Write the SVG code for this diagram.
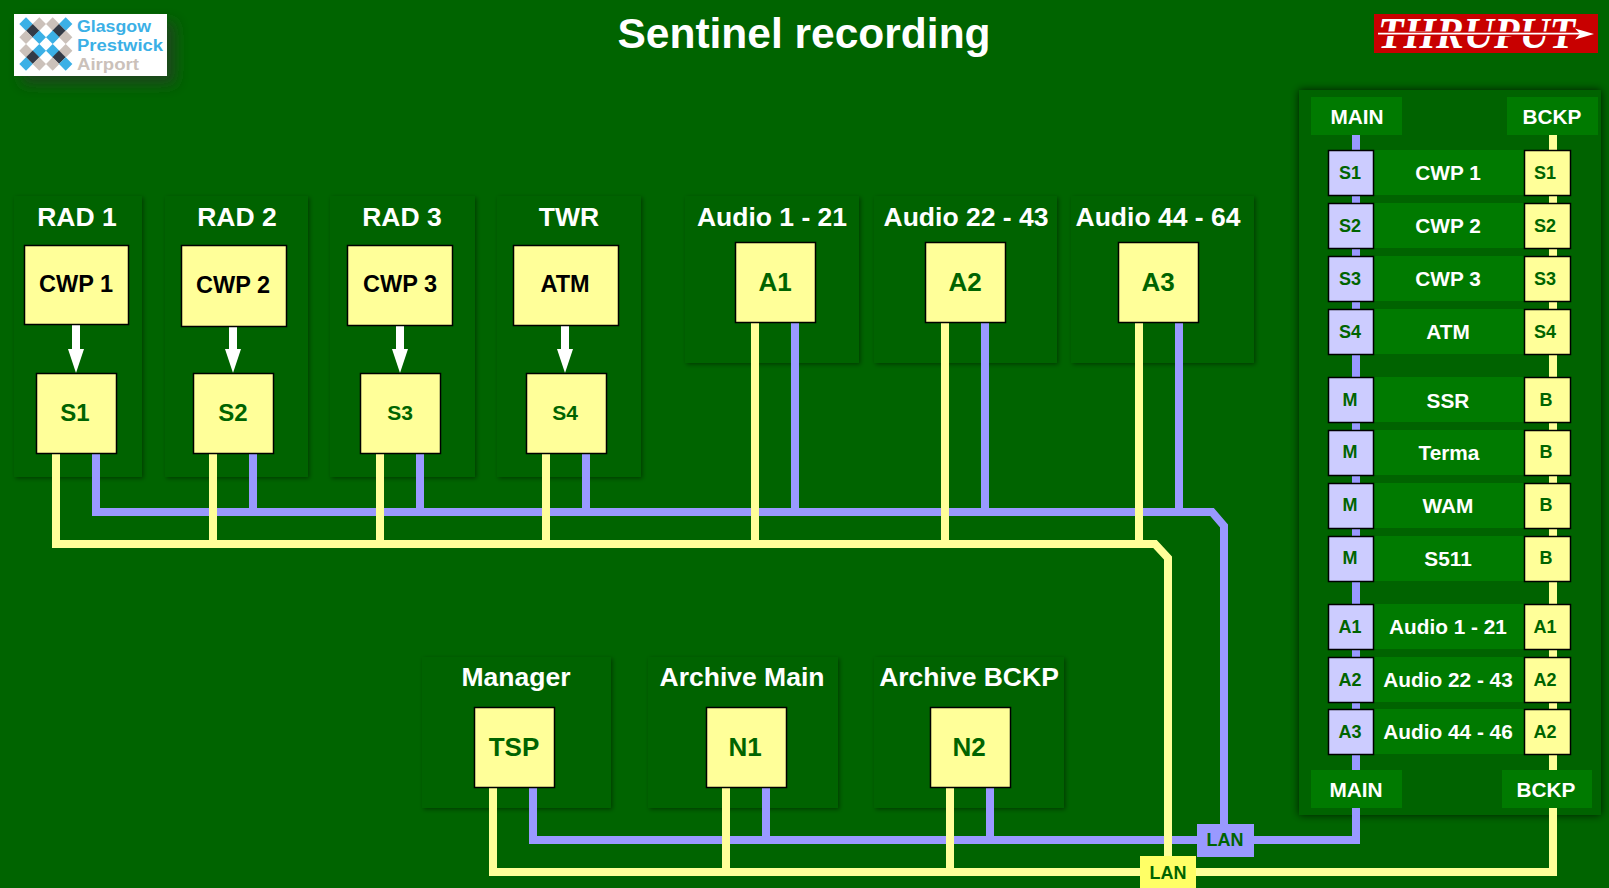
<svg xmlns="http://www.w3.org/2000/svg" width="1609" height="888" viewBox="0 0 1609 888">
<style>
text{font-family:"Liberation Sans",Arial,sans-serif;font-weight:bold;text-anchor:middle}
.panel{fill:#006400;filter:url(#sh)}
.tp{fill:#fff;font-size:26.5px}
.box{fill:#ffff99;stroke:#000;stroke-width:1.5}
.lbox{fill:#ccccff;stroke:#000;stroke-width:1.5}
.row{fill:#007a00}
.tb{fill:#000;font-size:23.5px}
.tg{fill:#006400;font-size:24px}
.tg2{fill:#006400;font-size:21px}
.tg3{fill:#006400;font-size:26px}
.ts{fill:#006400;font-size:18px}
.tw{fill:#fff;font-size:20.8px}
.y{fill:none;stroke:#ffff99;stroke-width:8}
.b{fill:none;stroke:#9999ff;stroke-width:8}
.a{stroke:#fff;stroke-width:8;marker-end:url(#ah)}
.dc{fill:#3bb0e6}.dk{fill:#323a46}.dt{fill:#cbc1ba}
</style>
<defs>
<filter id="sh" x="-20%" y="-20%" width="140%" height="140%"><feDropShadow dx="1.5" dy="1.5" stdDeviation="2" flood-color="#000" flood-opacity=".4"/></filter>
<filter id="sh2" x="-10%" y="-10%" width="120%" height="120%"><feDropShadow dx="0" dy="0" stdDeviation="4" flood-color="#000" flood-opacity=".75"/></filter>
<filter id="sh3" x="-30%" y="-50%" width="170%" height="220%"><feDropShadow dx="8" dy="8" stdDeviation="7" flood-color="#333" flood-opacity=".6"/></filter>
<marker id="ah" markerUnits="userSpaceOnUse" markerWidth="24" markerHeight="16" refX="0" refY="8" orient="auto" viewBox="0 0 24 16" overflow="visible"><path d="M0,0L24,8L0,16Z" fill="#fff"/></marker>
<polygon id="d" points="0,-6.7 6.7,0 0,6.7 -6.7,0"/>
</defs>
<rect width="1609" height="888" fill="#006400"/>
<text x="804" y="48" fill="#fff" style="font-size:42.5px">Sentinel recording</text>

<g id="logo-glasgow">
<rect x="14" y="14" width="153" height="62" fill="#fff" filter="url(#sh3)"/>
<use href="#d" x="26" y="24" class="dc"/><use href="#d" x="39.3" y="24" class="dt"/><use href="#d" x="52.7" y="24" class="dt"/><use href="#d" x="65.7" y="24" class="dc"/>
<use href="#d" x="32.7" y="30.7" class="dk"/><use href="#d" x="59" y="30.7" class="dk"/>
<use href="#d" x="26" y="37.3" class="dt"/><use href="#d" x="39.3" y="37.3" class="dc"/><use href="#d" x="52.7" y="37.3" class="dc"/><use href="#d" x="65.7" y="37.3" class="dt"/>
<use href="#d" x="26" y="50.7" class="dt"/><use href="#d" x="39.3" y="50.7" class="dc"/><use href="#d" x="52.7" y="50.7" class="dc"/><use href="#d" x="65.7" y="50.7" class="dt"/>
<use href="#d" x="32.7" y="57.3" class="dk"/><use href="#d" x="59" y="57.3" class="dk"/>
<use href="#d" x="26" y="64" class="dc"/><use href="#d" x="39.3" y="64" class="dt"/><use href="#d" x="52.7" y="64" class="dt"/><use href="#d" x="65.7" y="64" class="dc"/>
<text x="77" y="31.5" fill="#3bb0e6" textLength="74" lengthAdjust="spacingAndGlyphs" style="font-size:16px;text-anchor:start">Glasgow</text>
<text x="77" y="51" fill="#3bb0e6" textLength="86" lengthAdjust="spacingAndGlyphs" style="font-size:16px;text-anchor:start">Prestwick</text>
<text x="77" y="70" fill="#cbc1ba" textLength="62" lengthAdjust="spacingAndGlyphs" style="font-size:16px;text-anchor:start">Airport</text>
</g>

<g id="logo-thruput">
<rect x="1374" y="14" width="224" height="39" fill="#c80000"/>
<text x="1378" y="48" fill="#fff" textLength="197" lengthAdjust="spacingAndGlyphs" style="font-family:'Liberation Serif',serif;font-style:italic;font-size:44px;text-anchor:start">THRUPUT</text>
<path d="M1378,33.7H1578" stroke="#c80000" stroke-width="4.5" fill="none"/>
<path d="M1378,33.7H1580" stroke="#fff" stroke-width="1.8" fill="none"/>
<polygon points="1594,34 1575,28.5 1580,34 1575,39.5" fill="#fff"/>
</g>

<g id="panels">
<rect class="panel" x="14" y="196" width="128" height="281"/>
<rect class="panel" x="165" y="196" width="143" height="281"/>
<rect class="panel" x="330" y="196" width="145" height="281"/>
<rect class="panel" x="497" y="196" width="144" height="281"/>
<rect class="panel" x="685" y="196" width="174" height="167"/>
<rect class="panel" x="874" y="196" width="183" height="167"/>
<rect class="panel" x="1071" y="196" width="183" height="167"/>
<rect class="panel" x="422" y="657" width="189" height="151"/>
<rect class="panel" x="648" y="657" width="190" height="151"/>
<rect class="panel" x="874" y="657" width="190" height="151"/>
<rect x="1299" y="90" width="302" height="725" fill="#006400" filter="url(#sh2)"/>
<text class="tp" x="77" y="226">RAD 1</text>
<text class="tp" x="237" y="226">RAD 2</text>
<text class="tp" x="402" y="226">RAD 3</text>
<text class="tp" x="569" y="226">TWR</text>
<text class="tp" x="772" y="226">Audio 1 - 21</text>
<text class="tp" x="966" y="226">Audio 22 - 43</text>
<text class="tp" x="1158" y="226">Audio 44 - 64</text>
<text class="tp" x="516" y="686">Manager</text>
<text class="tp" x="742" y="686">Archive Main</text>
<text class="tp" x="969" y="686">Archive BCKP</text>
</g>

<g id="connectors">
<path class="b" d="M96,453V512H1212L1224,526V824"/>
<path class="b" d="M253,453V512M420,453V512M586,453V512M795,323V512M985,323V512M1179,323V512"/>
<path class="b" d="M533,788V840H1356V808"/>
<path class="b" d="M766,788V840M990,788V840"/>
<path class="b" d="M1356,135V770"/>
<path class="y" d="M56,453V544H1155L1168,558V856"/>
<path class="y" d="M213,453V544M380,453V544M546,453V544M755,323V544M945,323V544M1139,323V544"/>
<path class="y" d="M493,788V872H1553V808"/>
<path class="y" d="M726,788V872M950,788V872"/>
<path class="y" d="M1553,135V770"/>
<line class="a" x1="76" y1="325" x2="76" y2="349"/>
<line class="a" x1="233" y1="326" x2="233" y2="349"/>
<line class="a" x1="400" y1="326" x2="400" y2="349"/>
<line class="a" x1="565" y1="326" x2="565" y2="349"/>
</g>

<g id="n-cwp1"><rect class="box" x="24.5" y="245.5" width="104" height="79"/><text class="tb" x="76" y="292">CWP 1</text></g>
<g id="n-cwp2"><rect class="box" x="181.5" y="245.5" width="105" height="81"/><text class="tb" x="233" y="293">CWP 2</text></g>
<g id="n-cwp3"><rect class="box" x="347.5" y="245.5" width="105" height="80"/><text class="tb" x="400" y="292">CWP 3</text></g>
<g id="n-atm"><rect class="box" x="513.5" y="245.5" width="105" height="80"/><text class="tb" x="565" y="292">ATM</text></g>
<g id="n-s1"><rect class="box" x="36.5" y="373.5" width="80" height="80"/><text class="tg" x="75" y="421">S1</text></g>
<g id="n-s2"><rect class="box" x="193.5" y="373.5" width="80" height="80"/><text class="tg" x="233" y="421">S2</text></g>
<g id="n-s3"><rect class="box" x="360.5" y="373.5" width="80" height="80"/><text class="tg2" x="400" y="420">S3</text></g>
<g id="n-s4"><rect class="box" x="526.5" y="373.5" width="80" height="80"/><text class="tg2" x="565" y="420">S4</text></g>
<g id="n-a1"><rect class="box" x="735.5" y="242.5" width="80" height="80"/><text class="tg3" x="775" y="291">A1</text></g>
<g id="n-a2"><rect class="box" x="925.5" y="242.5" width="80" height="80"/><text class="tg3" x="965" y="291">A2</text></g>
<g id="n-a3"><rect class="box" x="1118.5" y="242.5" width="80" height="80"/><text class="tg3" x="1158" y="291">A3</text></g>
<g id="n-tsp"><rect class="box" x="474.5" y="707.5" width="80" height="80"/><text class="tg3" x="514" y="756">TSP</text></g>
<g id="n-n1"><rect class="box" x="706.5" y="707.5" width="80" height="80"/><text class="tg3" x="745" y="756">N1</text></g>
<g id="n-n2"><rect class="box" x="930.5" y="707.5" width="80" height="80"/><text class="tg3" x="969" y="756">N2</text></g>

<g id="n-lan-blue"><rect x="1197" y="824" width="57" height="33" fill="#9999ff"/><text class="ts" x="1225" y="846">LAN</text></g>
<g id="n-lan-yellow"><rect x="1140" y="856" width="56" height="32" fill="#ffff66"/><text class="ts" x="1168" y="879">LAN</text></g>

<g id="n-main-top"><rect class="row" x="1311" y="97" width="91" height="38"/><text class="tw" x="1357" y="124">MAIN</text></g>
<g id="n-bckp-top"><rect class="row" x="1507" y="97" width="91" height="38"/><text class="tw" x="1552" y="124">BCKP</text></g>
<g id="n-main-bot"><rect class="row" x="1311" y="770" width="91" height="38"/><text class="tw" x="1356" y="797">MAIN</text></g>
<g id="n-bckp-bot"><rect class="row" x="1502" y="770" width="90" height="38"/><text class="tw" x="1546" y="797">BCKP</text></g>

<g id="r-cwp1"><rect class="row" x="1373" y="150" width="152" height="45"/><rect class="lbox" x="1328.5" y="150.5" width="45" height="45"/><rect class="box" x="1524.5" y="150.5" width="46" height="45"/><text class="ts" x="1350" y="179">S1</text><text class="ts" x="1545" y="179">S1</text><text class="tw" x="1448" y="180">CWP 1</text></g>
<g id="r-cwp2"><rect class="row" x="1373" y="203" width="152" height="45"/><rect class="lbox" x="1328.5" y="203.5" width="45" height="45"/><rect class="box" x="1524.5" y="203.5" width="46" height="45"/><text class="ts" x="1350" y="232">S2</text><text class="ts" x="1545" y="232">S2</text><text class="tw" x="1448" y="233">CWP 2</text></g>
<g id="r-cwp3"><rect class="row" x="1373" y="256" width="152" height="45"/><rect class="lbox" x="1328.5" y="256.5" width="45" height="45"/><rect class="box" x="1524.5" y="256.5" width="46" height="45"/><text class="ts" x="1350" y="285">S3</text><text class="ts" x="1545" y="285">S3</text><text class="tw" x="1448" y="286">CWP 3</text></g>
<g id="r-atm"><rect class="row" x="1373" y="309" width="152" height="45"/><rect class="lbox" x="1328.5" y="309.5" width="45" height="45"/><rect class="box" x="1524.5" y="309.5" width="46" height="45"/><text class="ts" x="1350" y="338">S4</text><text class="ts" x="1545" y="338">S4</text><text class="tw" x="1448" y="339">ATM</text></g>
<g id="r-ssr"><rect class="row" x="1373" y="377" width="152" height="45"/><rect class="lbox" x="1328.5" y="377.5" width="45" height="45"/><rect class="box" x="1524.5" y="377.5" width="46" height="45"/><text class="ts" x="1350" y="406">M</text><text class="ts" x="1546" y="406">B</text><text class="tw" x="1448" y="408">SSR</text></g>
<g id="r-terma"><rect class="row" x="1373" y="430" width="152" height="45"/><rect class="lbox" x="1328.5" y="430.5" width="45" height="45"/><rect class="box" x="1524.5" y="430.5" width="46" height="45"/><text class="ts" x="1350" y="458">M</text><text class="ts" x="1546" y="458">B</text><text class="tw" x="1449" y="460">Terma</text></g>
<g id="r-wam"><rect class="row" x="1373" y="483" width="152" height="45"/><rect class="lbox" x="1328.5" y="483.5" width="45" height="45"/><rect class="box" x="1524.5" y="483.5" width="46" height="45"/><text class="ts" x="1350" y="511">M</text><text class="ts" x="1546" y="511">B</text><text class="tw" x="1448" y="513">WAM</text></g>
<g id="r-s511"><rect class="row" x="1373" y="536" width="152" height="45"/><rect class="lbox" x="1328.5" y="536.5" width="45" height="45"/><rect class="box" x="1524.5" y="536.5" width="46" height="45"/><text class="ts" x="1350" y="564">M</text><text class="ts" x="1546" y="564">B</text><text class="tw" x="1448" y="566">S511</text></g>
<g id="r-audio1"><rect class="row" x="1373" y="604" width="152" height="45"/><rect class="lbox" x="1328.5" y="604.5" width="45" height="45"/><rect class="box" x="1524.5" y="604.5" width="46" height="45"/><text class="ts" x="1350" y="633">A1</text><text class="ts" x="1545" y="633">A1</text><text class="tw" x="1448" y="634">Audio 1 - 21</text></g>
<g id="r-audio2"><rect class="row" x="1373" y="657" width="152" height="45"/><rect class="lbox" x="1328.5" y="657.5" width="45" height="45"/><rect class="box" x="1524.5" y="657.5" width="46" height="45"/><text class="ts" x="1350" y="686">A2</text><text class="ts" x="1545" y="686">A2</text><text class="tw" x="1448" y="687">Audio 22 - 43</text></g>
<g id="r-audio3"><rect class="row" x="1373" y="709" width="152" height="45"/><rect class="lbox" x="1328.5" y="709.5" width="45" height="45"/><rect class="box" x="1524.5" y="709.5" width="46" height="45"/><text class="ts" x="1350" y="738">A3</text><text class="ts" x="1545" y="738">A2</text><text class="tw" x="1448" y="739">Audio 44 - 46</text></g>
</svg>
